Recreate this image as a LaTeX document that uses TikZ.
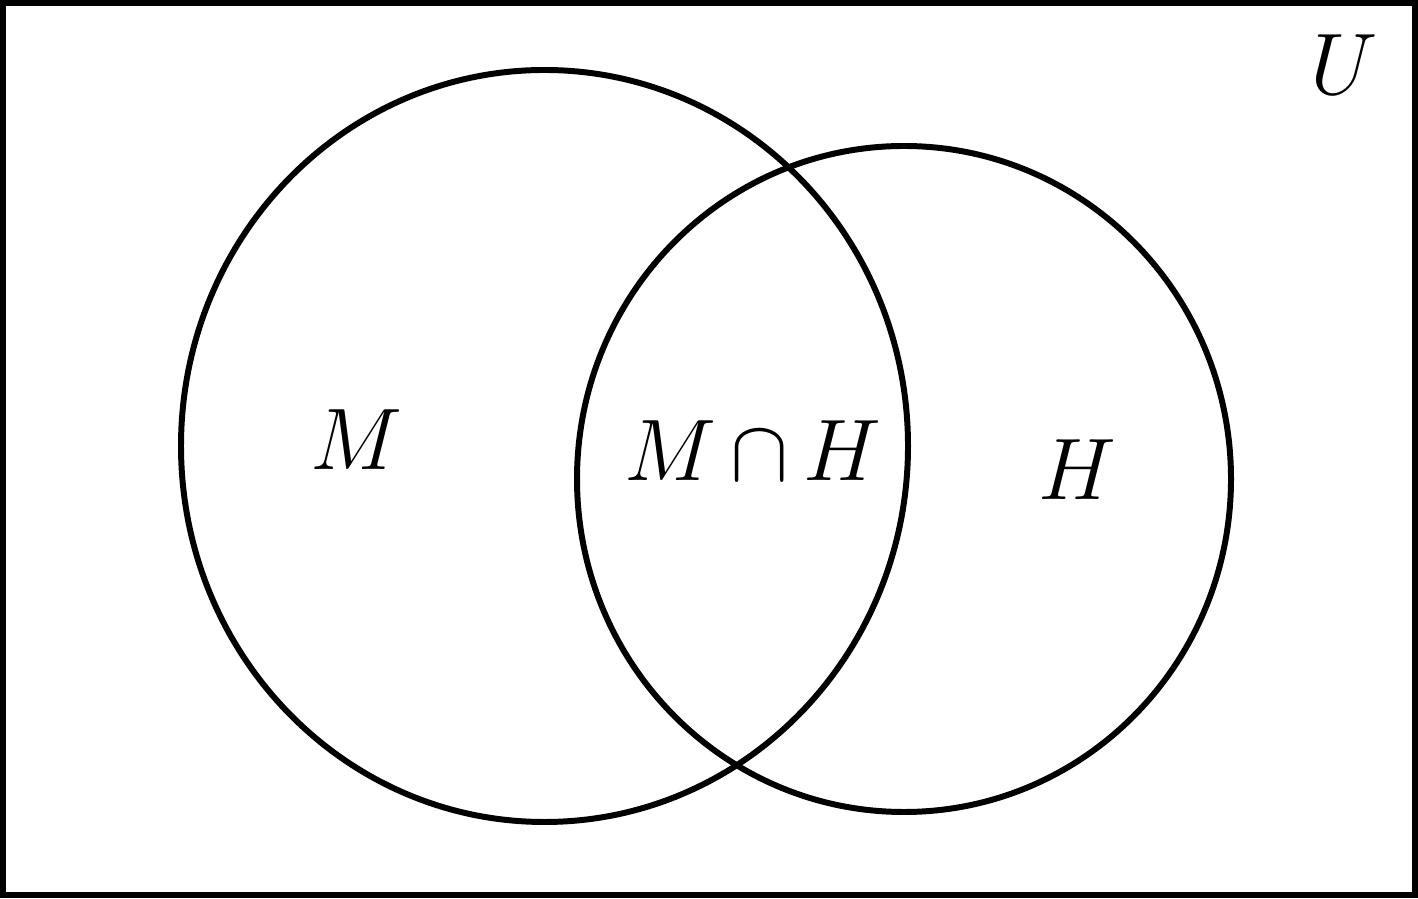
\documentclass[tikz,border=0pt]{standalone}
\usepackage{amsmath,amssymb}
\usepackage{tikz}
\usetikzlibrary{positioning}
\tikzset{
  setline/.style={draw=black, line width=1.7pt},
  setlabel/.style={font=\fontsize{29}{34}\selectfont}
}

\begin{document}
\begin{tikzpicture}
  \useasboundingbox (0,0) rectangle (14.18,8.98);
  \draw[setline] (0.03,0.03) rectangle (14.15,8.95);
  \draw[setline] (5.445,4.52) ellipse [x radius=3.635, y radius=3.76];
  \draw[setline] (9.04,4.19) ellipse [x radius=3.27, y radius=3.33];
  \node[setlabel] (lblM) at (3.56,4.58) {$M$};
  \node[setlabel] (lblMH) at (7.53,4.47) {$M\,{\cap}\,H$};
  \node[setlabel] (lblH) at (10.77,4.28) {$H$};
  \node[setlabel] (lblU) at (13.44,8.33) {$U$};
\end{tikzpicture}
\end{document}
